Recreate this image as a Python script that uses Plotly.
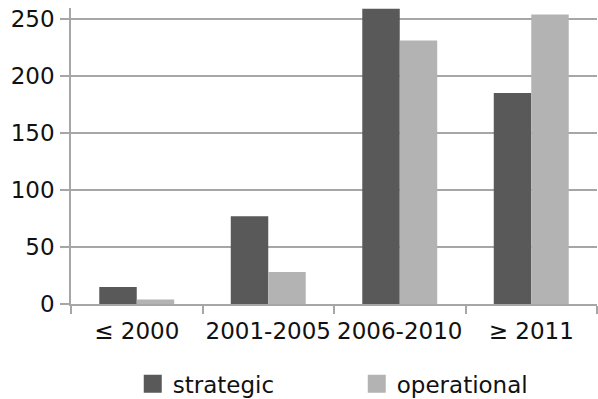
import plotly.graph_objects as go

# Publication counts per period, split by planning level
periods = ["≤ 2000", "2001-2005", "2006-2010", "≥ 2011"]
strategic = [15, 77, 259, 185]
operational = [4, 28, 231, 254]
y_ticks = [0, 50, 100, 150, 200, 250]

dark = "#595959"
light = "#b3b3b3"
grid = "#a6a6a6"
font = dict(family="DejaVu Sans", size=23, color="#111111")

fig = go.Figure()
fig.add_trace(go.Bar(x=periods, y=strategic, name="strategic",
                     marker=dict(color=dark, line=dict(width=0)), showlegend=False))
fig.add_trace(go.Bar(x=periods, y=operational, name="operational",
                     marker=dict(color=light, line=dict(width=0)), showlegend=False))

# Legend entries drawn as square markers
for name, col in (("strategic", dark), ("operational", light)):
    fig.add_trace(go.Scatter(x=[periods[0]], y=[None], mode="markers", name=name,
                             marker=dict(symbol="square", size=16, color=col,
                                         line=dict(color=col, width=2))))

fig.update_layout(
    width=598, height=399,
    margin=dict(l=71, r=1, t=8, b=95),
    paper_bgcolor="white", plot_bgcolor="white",
    font=font,
    barmode="group", bargap=0.43, bargroupgap=0,
    legend=dict(orientation="h", xref="container", yref="container",
                x=0.222, xanchor="left", y=0.038, yanchor="middle",
                entrywidth=179, entrywidthmode="pixels",
                font=font, itemsizing="trace", bgcolor="rgba(0,0,0,0)"),
    xaxis=dict(type="category", tickson="boundaries", ticks="outside", ticklen=8,
               tickcolor=grid, tickwidth=1.5, showline=True, linecolor=grid,
               linewidth=1.5, showgrid=False, tickfont=font, tickangle=0,
               ticklabelstandoff=6, automargin=False),
    yaxis=dict(range=[0, 259.6], tickvals=y_ticks, ticks="outside", ticklen=9,
               tickcolor=grid, tickwidth=1.5, showline=True, linecolor=grid,
               linewidth=1.5, showgrid=True, gridcolor=grid, gridwidth=1.5,
               zeroline=False, tickfont=font, ticklabelstandoff=1,
               automargin=False),
)

fig.write_html("out.html")
